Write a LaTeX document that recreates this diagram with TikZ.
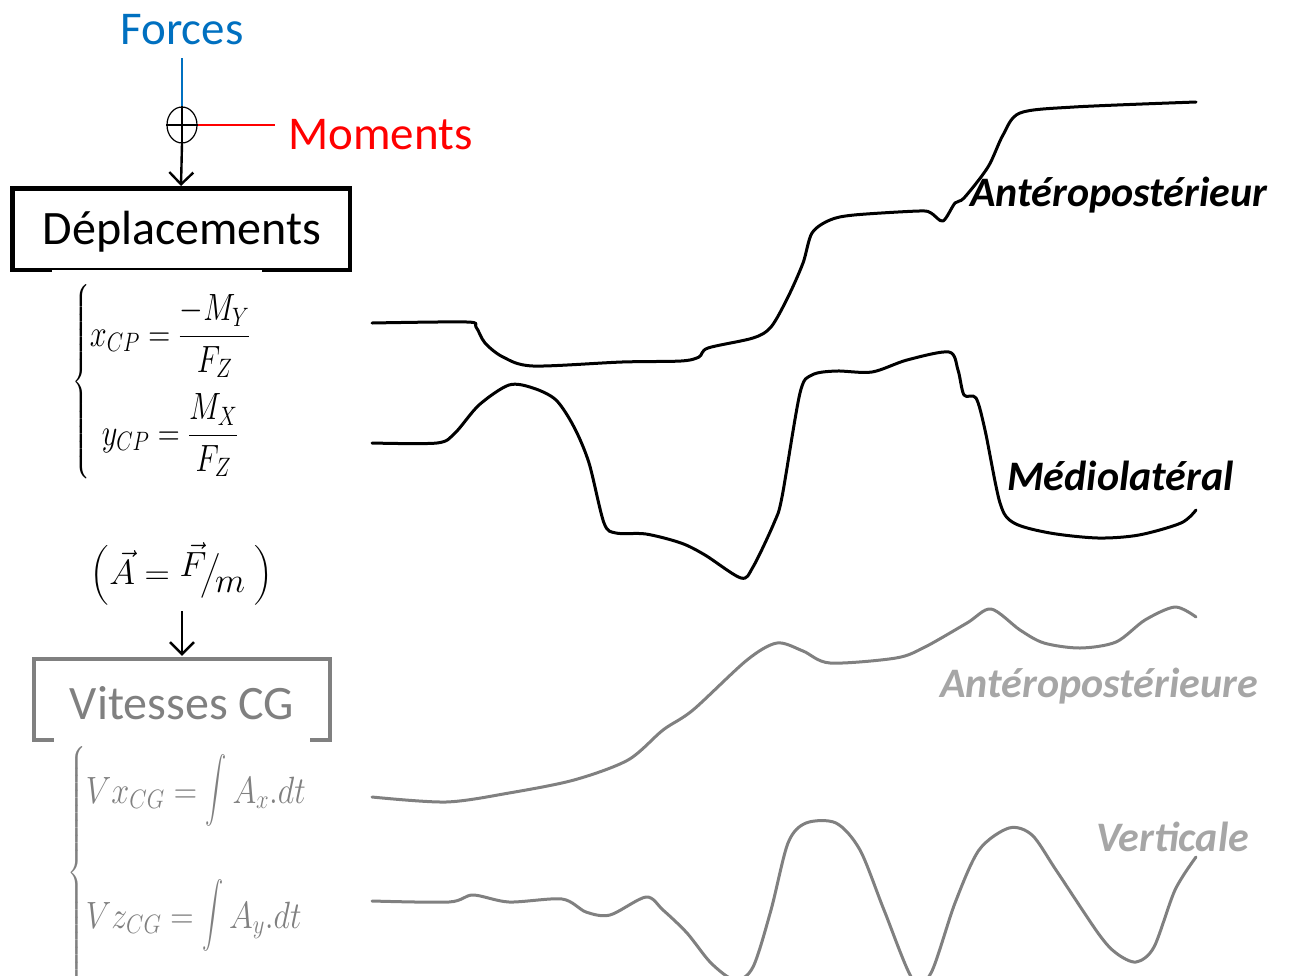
\documentclass[tikz,border=0pt]{standalone}
\usepackage{fix-cm}
\usepackage{amsmath}
\usepackage{graphicx}
\usepackage{fontspec}
\setmainfont{Carlito}
\usetikzlibrary{arrows.meta,shapes.geometric}
\definecolor{fblue}{HTML}{0070C0}
\definecolor{mred}{HTML}{FF0000}
\definecolor{cgray}{HTML}{808080}
\definecolor{lgray}{HTML}{A6A6A6}
\newcommand{\bigint}{\mathop{\scalebox{1}[1.3]{$\displaystyle\int$}}}
\begin{document}
\begin{tikzpicture}[x=1pt,y=-1pt,
  txt/.style={inner sep=0pt, font=\fontsize{47}{52}\selectfont},
  mth/.style={inner sep=0pt, font=\fontsize{38}{42}\selectfont},
  lbl/.style={inner sep=0pt, font=\fontsize{42}{46}\selectfont\bfseries\itshape},
  curve/.style={line width=3pt, line join=round, line cap=round},
  arr/.style={line width=2.4pt, -{Straight Barb[length=12pt,width=24pt,line width=2.4pt]}}]
\useasboundingbox (0,0) rectangle (1290,975);

% top: forces / moments
\node[txt, text=fblue] (forces) at (182,30) {Forces};
\node[draw, line width=1.2pt, ellipse, minimum width=30pt, minimum height=36pt, inner sep=0pt] (circ) at (182,125) {};
\draw[line width=1.2pt] (circ.west) -- (circ.east) (circ.north) -- (circ.south);
\node[txt, text=mred, anchor=west] (moments) at (288,135) {Moments};
\coordinate (mend) at (275,125);
\draw[fblue, line width=1.3pt, shorten <=13pt] (forces.south) -- (circ.north);
\draw[mred, line width=1.3pt] (circ.east) -- (mend);

% Deplacements box
\node[draw, line width=4.5pt, minimum width=337.5pt, minimum height=81.5pt] (depl) at (181,229) {};
\node[txt, font=\fontsize{48}{52}\selectfont] (tdepl) at (182,232) {Déplacements};
\draw[arr] (circ.south) -- (depl.north);
\fill[white] (52,269.6) rectangle (262,273);

\node[mth, anchor=west] (eq1) at (72,382)
 {\scalebox{0.8}[1]{$\left\{\begin{array}{@{}c@{}}\rule[-40pt]{0pt}{99pt}x_{CP} = \dfrac{-M_Y}{F_Z} \\ \rule{0pt}{59pt}y_{CP} = \dfrac{M_X}{F_Z} \end{array}\right.$}};

\node[mth, font=\fontsize{35}{40}\selectfont] (acc) at (182,575)
 {$\Bigl(\vec{A} = \raisebox{8pt}{$\vec{F}$}\!\big/\!\raisebox{-8pt}{$m$}\;\Bigr)$};

% Vitesses CG box
\node[minimum width=296pt, minimum height=81pt] (vit) at (182,699.5) {};
\node[txt, text=cgray, font=\fontsize{48}{52}\selectfont] (tvit) at (182,703) {Vitesses CG};
\draw[cgray, line width=4pt] ([xshift=20pt]vit.south west) -- (vit.south west) -- (vit.north west)
  -- (vit.north east) -- (vit.south east) -- ([xshift=-20pt]vit.south east);
\draw[arr] ([yshift=-4pt]acc.south) -- ([yshift=3pt]vit.north);

\node[mth, text=cgray, anchor=west] (eq2) at (67,873)
 {\scalebox{0.85}[1]{$\left\{\begin{array}{@{}l@{}}\rule[-70pt]{0pt}{125pt} Vx_{CG} = \bigint A_x.dt \\ \rule[-70pt]{0pt}{125pt}Vz_{CG} = \bigint A_y.dt\end{array}\right.$}};

% curves
\draw[curve] plot[smooth, tension=0.5] coordinates {(372,323) (467,322) (476,327) (485,343) (503,357) (533,366) (622,362) (681,361) (699,357) (708,348) (753,338) (771,327) (788,297) (803,263) (812,233) (830,220) (854,215) (919,211) (931,213) (943,221) (955,203) (964,198) (988,167) (1003,135) (1020,113) (1074,107) (1196,102)};
\draw[curve] plot[smooth, tension=0.5] coordinates {(372,443) (437,443) (455,433) (479,405) (509,385) (533,388) (556,400) (574,427) (589,463) (604,523) (616,533) (646,534) (681,543) (705,555) (741,578) (753,567) (774,523) (782,497) (800,393) (812,375) (836,371) (872,372) (907,360) (949,352) (958,370) (964,395) (976,398) (985,430) (1000,503) (1014,523) (1050,533) (1098,538) (1139,535) (1181,523) (1196,510)};
\draw[curve, cgray] plot[smooth, tension=0.5] coordinates {(372,797) (446,802) (509,793) (574,780) (628,760) (663,730) (693,710) (747,660) (777,643) (803,651) (830,663) (896,658) (925,647) (967,623) (991,609) (1020,630) (1044,643) (1080,648) (1116,642) (1145,620) (1175,607) (1196,617)};
\draw[curve, cgray] plot[smooth, tension=0.5] coordinates {(372,901) (449,902) (473,895) (509,902) (562,899) (586,912) (610,915) (646,897) (663,910) (687,933) (711,963) (735,980) (753,967) (771,910) (788,843) (806,823) (836,823) (860,850) (884,910) (913,980) (931,973) (955,903) (979,850) (1009,828) (1032,835) (1056,870) (1098,933) (1116,953) (1136,962) (1154,947) (1175,890) (1196,857)};

% labels
\node[lbl, anchor=west] (lap) at (970,195) {Antéropostérieur};
\node[lbl, anchor=west] (lml) at (1007,476) {Médiolatéral};
\node[lbl, anchor=west, text=lgray] (lvap) at (940,686) {Antéropostérieure};
\node[lbl, anchor=west, text=lgray] (lvv) at (1096,837) {Verticale};
\end{tikzpicture}
\end{document}
